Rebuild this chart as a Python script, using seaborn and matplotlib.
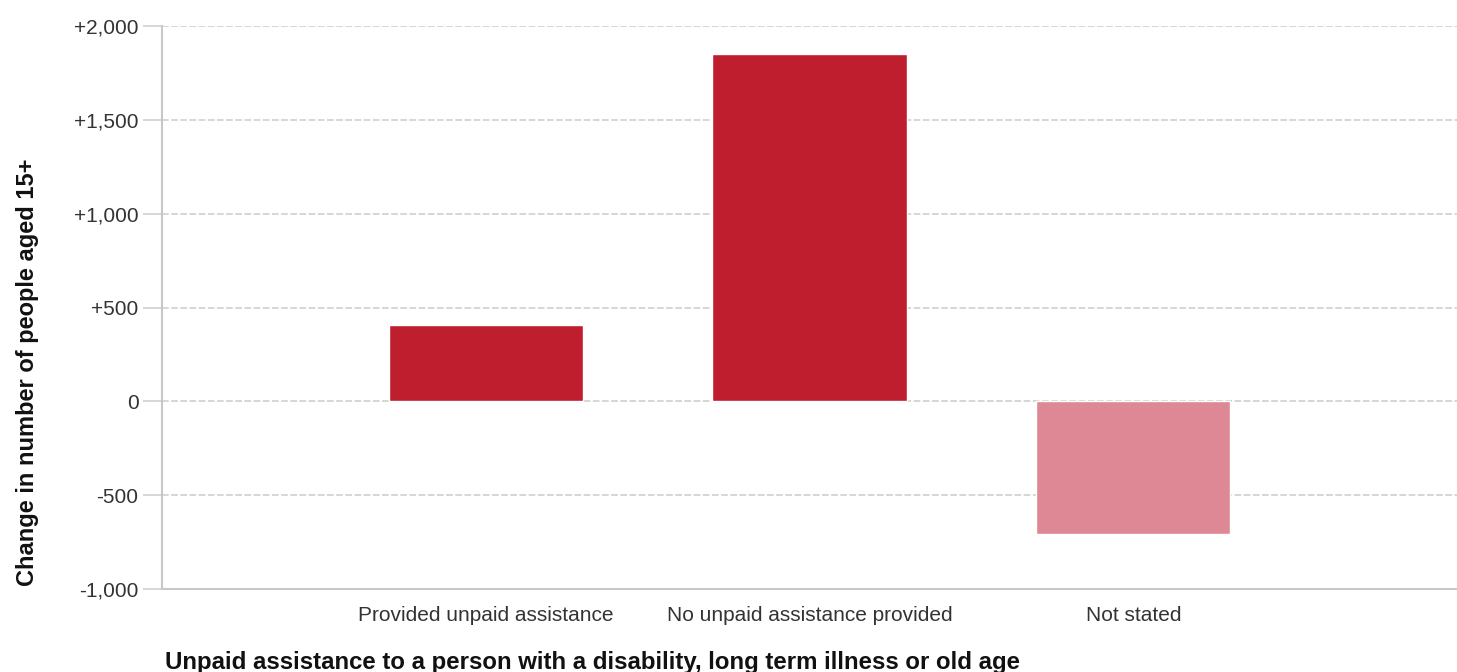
import matplotlib
matplotlib.use("Agg")
import matplotlib.pyplot as plt
import seaborn as sns
import pandas as pd
from matplotlib.ticker import FuncFormatter

categories = ["Provided unpaid assistance", "No unpaid assistance provided", "Not stated"]
values = [408, 1850, -705]
colors = ["#BE1E2D", "#BE1E2D", "#DE8895"]
y_ticks = [-1000, -500, 0, 500, 1000, 1500, 2000]

sns.set_theme(style="white")
plt.rcParams["font.family"] = ["Liberation Sans", "DejaVu Sans"]

df = pd.DataFrame({"cat": categories, "val": values})

fig = plt.figure(figsize=(14.57, 6.72), dpi=100)
ax = fig.add_axes([162 / 1457, 1 - 589 / 672, (1457 - 162) / 1457, (589 - 26) / 672])

sns.barplot(data=df, x="cat", y="val", hue="cat", palette=colors, order=categories,
            hue_order=categories, width=0.6, legend=False, ax=ax, saturation=1)

ax.set_xlim(-1, 3)
ax.set_ylim(-1000, 2000)
ax.set_yticks(y_ticks)
ax.yaxis.set_major_formatter(FuncFormatter(lambda v, p: "0" if v == 0 else f"{v:+,.0f}"))
ax.set_axisbelow(True)
ax.yaxis.grid(True, color="#cfcfcf", linestyle=(0, (4, 1.5)), linewidth=1.2)
ax.xaxis.grid(False)

for s in ["top", "right"]:
    ax.spines[s].set_visible(False)
for s in ["left", "bottom"]:
    ax.spines[s].set_color("#c8c8c8")
    ax.spines[s].set_linewidth(1.5)

ax.tick_params(axis="y", which="major", left=True, length=14, width=1.2, color="#cfcfcf",
               labelsize=15, labelcolor="#333333", pad=3)
ax.tick_params(axis="x", which="major", bottom=False, labelsize=15, labelcolor="#333333", pad=6)

ax.set_xlabel("")
ax.set_ylabel("")

fig.text(28 / 1457, 1 - 372 / 672, "Change in number of people aged 15+", rotation=90,
         ha="center", va="center", fontsize=17, fontweight="bold", color="#111111")
fig.text(165 / 1457, 1 - 662 / 672,
         "Unpaid assistance to a person with a disability, long term illness or old age",
         ha="left", va="center", fontsize=17.3, fontweight="bold", color="#111111")

fig.savefig("out.png", dpi=100)
